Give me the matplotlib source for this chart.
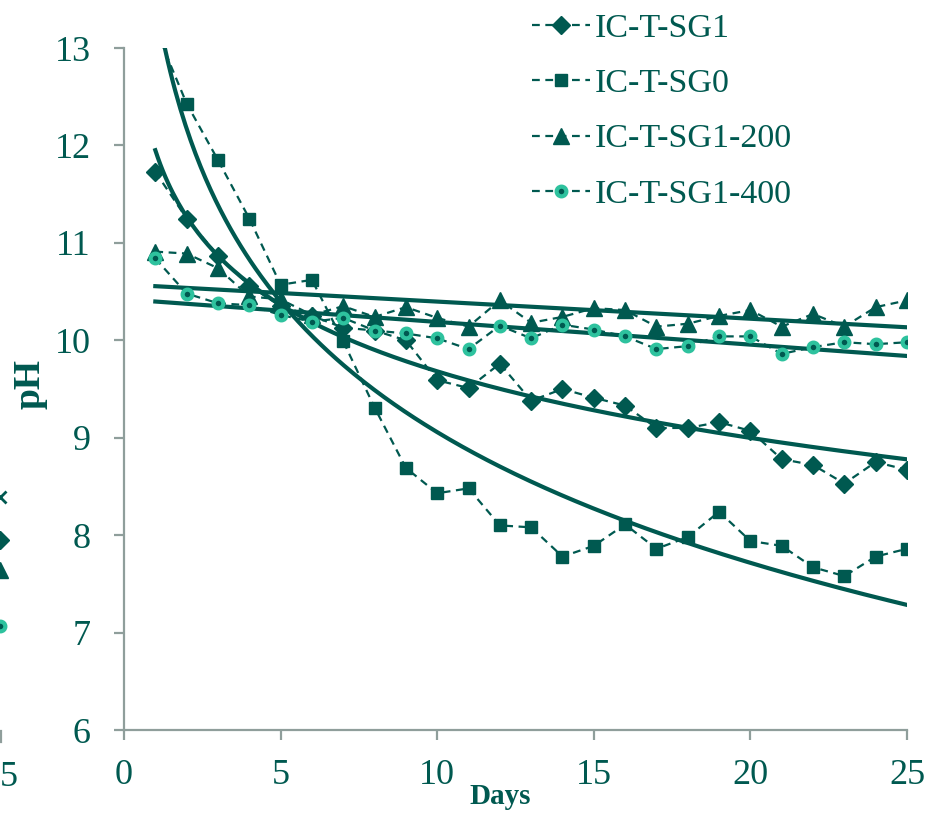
import numpy as np
import matplotlib
matplotlib.use('Agg')
import matplotlib.pyplot as plt

plt.rcParams['font.family'] = ['Liberation Serif', 'DejaVu Serif']

days = np.arange(1, 26)

# pH readings per sample
ph_sg1 = [11.73, 11.25, 10.87, 10.56, 10.35, 10.25, 10.13, 10.10, 10.00, 9.59,
          9.51, 9.76, 9.38, 9.50, 9.41, 9.33, 9.10, 9.10, 9.16, 9.07,
          8.78, 8.72, 8.53, 8.75, 8.67]
ph_sg0 = [13.20, 12.43, 11.85, 11.25, 10.57, 10.62, 9.99, 9.31, 8.69, 8.43,
          8.48, 8.10, 8.08, 7.78, 7.89, 8.11, 7.86, 7.98, 8.24, 7.94,
          7.89, 7.67, 7.58, 7.78, 7.86]
ph_sg1_200 = [10.91, 10.89, 10.74, 10.45, 10.42, 10.26, 10.35, 10.24, 10.34, 10.23,
              10.14, 10.41, 10.18, 10.24, 10.33, 10.31, 10.14, 10.17, 10.25, 10.31,
              10.14, 10.27, 10.14, 10.34, 10.41]
ph_sg1_400 = [10.84, 10.48, 10.38, 10.36, 10.26, 10.19, 10.23, 10.10, 10.07, 10.02,
              9.91, 10.15, 10.02, 10.16, 10.11, 10.04, 9.91, 9.94, 10.04, 10.04,
              9.86, 9.93, 9.98, 9.96, 9.98]

labels = ['IC-T-SG1', 'IC-T-SG0', 'IC-T-SG1-200', 'IC-T-SG1-400']
fit_kind = ['log', 'log', 'linear', 'linear']

dark = '#005950'
light = '#2EC29E'
axis_gray = '#8F9E9B'

fig = plt.figure(figsize=(9.35, 8.16), dpi=100)
ax = fig.add_axes([124 / 935, 1 - 730 / 816, 783 / 935, 682 / 816])

styles = [
    dict(marker='D', markersize=9.5, color=dark),
    dict(marker='s', markersize=9, color=dark),
    dict(marker='^', markersize=11, color=dark),
    dict(marker='o', markersize=7, color=dark, markerfacecolor=dark,
         markeredgecolor=light, markeredgewidth=3),
]

series = [ph_sg1, ph_sg0, ph_sg1_200, ph_sg1_400]
xs = np.linspace(1, 25, 300)
for vals, lab, st, kind in zip(series, labels, styles, fit_kind):
    vals = np.array(vals)
    ax.plot(days, vals, linestyle=(0, (3.5, 2.5)), linewidth=1.6, label=lab, **st)
    # trendlines fitted from the readings
    if kind == 'log':
        b, a = np.polyfit(np.log(days), vals, 1)
        ys = a + b * np.log(xs)
    else:
        b, a = np.polyfit(days, vals, 1)
        ys = a + b * xs
    ax.plot(xs, ys, color=dark, linewidth=3, zorder=1)

ax.set_xlim(0, 25)
ax.set_ylim(6, 13)
ax.set_xticks([0, 5, 10, 15, 20, 25])
ax.set_yticks(range(6, 14))
for s in ['top', 'right']:
    ax.spines[s].set_visible(False)
for s in ['left', 'bottom']:
    ax.spines[s].set_color(axis_gray)
    ax.spines[s].set_linewidth(1.6)
ax.tick_params(axis='both', direction='out', length=7, width=1.6, color=axis_gray,
               labelcolor=dark, labelsize=26)
ax.tick_params(axis='y', pad=17)
ax.tick_params(axis='x', pad=14)

ax.set_xlabel('Days', fontsize=21, fontweight='bold', color=dark, va='top')
ax.xaxis.set_label_coords(0.48, -0.078)
ax.set_ylabel('pH', fontsize=27, fontweight='bold', color=dark)
ax.yaxis.set_label_coords(-0.098, 0.507)

leg = fig.legend(loc='upper left', bbox_to_anchor=(532 / 935, 1 - 13 / 816),
                 frameon=False, fontsize=24.5, handlelength=1.7, handletextpad=0.15,
                 labelspacing=0.72, borderpad=0, borderaxespad=0)
for t in leg.get_texts():
    t.set_color(dark)

# edge of the neighbouring panel
over = fig.add_axes([0, 0, 1, 1], zorder=-1)
over.set_xlim(0, 935)
over.set_ylim(816, 0)
over.axis('off')
over.plot([0], [497], marker='x', markersize=9, markeredgewidth=2, color=dark)
over.plot([0], [540], marker='D', markersize=9.5, color=dark)
over.plot([0], [570], marker='^', markersize=11, color=dark)
over.plot([0], [626], marker='o', markersize=7, markerfacecolor=dark,
          markeredgecolor=light, markeredgewidth=3)
over.plot([1, 1], [731, 742], color=axis_gray, linewidth=1.6)
over.text(9, 778, '5', fontsize=26, color=dark, ha='center', va='center')

fig.savefig('out.png', dpi=100)
